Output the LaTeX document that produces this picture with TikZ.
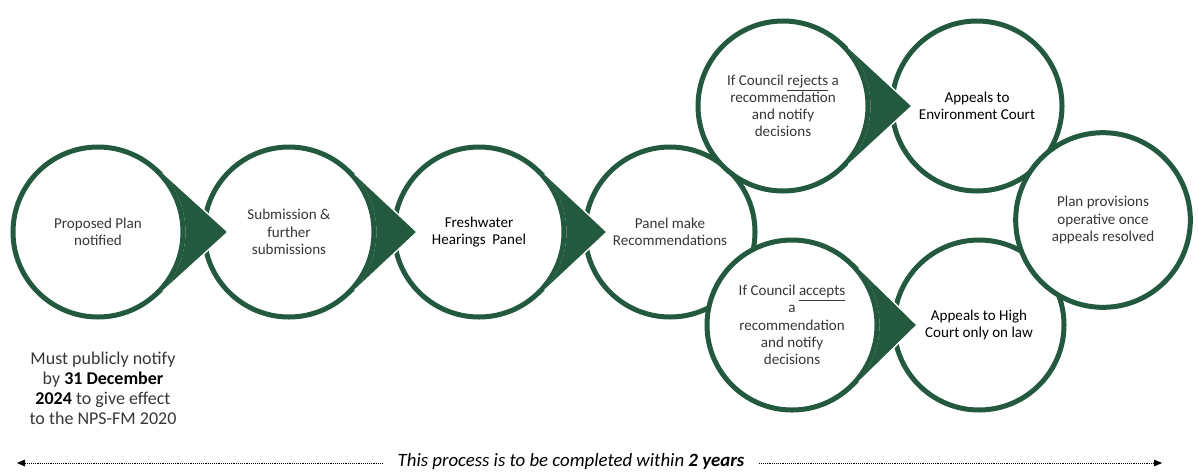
\documentclass[tikz,border=0pt]{standalone}
\usepackage{fontspec}
\setmainfont{Carlito}
\usetikzlibrary{calc,arrows.meta}
\definecolor{dg}{RGB}{35,89,62}
\definecolor{tx}{RGB}{55,55,55}
\tikzset{
  ring/.style={circle, draw=dg, line width=3.75pt, fill=white, minimum size=127.5pt,
    inner sep=0pt, align=center, text=tx, font=\fontsize{11.3}{12.9}\selectfont},
  dark/.style={text=black},
  timeline/.style={line width=0.7pt, dash pattern=on 0.7pt off 0.7pt, -{Triangle[length=6pt,width=5pt]}}
}
\newcommand\pointer[2]{%
  \pgfmathsetmacro\th{acos(87.5/#2)}%
  \fill[dg] ($(#1.center)+(#2,0)$) -- ($(#1.center)+(\th:87.5)$)
    arc[start angle=\th, end angle=-\th, radius=87.5] -- cycle;
  \draw[white, line width=1pt, shorten >=6pt]
    ($(#1.center)+(#2,0)$) -- ($(#1.center)+(\th:87.5)$);
  \draw[white, line width=1pt, shorten >=6pt]
    ($(#1.center)+(#2,0)$) -- ($(#1.center)+(-\th:87.5)$);}
\begin{document}
\begin{tikzpicture}[x=0.75pt,y=0.75pt]
\useasboundingbox (0,0) rectangle (1198,-472);
\node[ring] (p1) at (98,-232) {Proposed Plan\\notified};
\node[ring] (p2) at (289,-232) {Submission \&\\further\\submissions};
\node[ring,dark] (p3) at (479,-232) {Freshwater\\Hearings~~Panel};
\node[ring] (p4) at (670,-232) {Panel make\\Recommendations};
\node[ring] (p5) at (783,-106) {If Council \underline{rejects} a\\recommendation\\and notify\\decisions};
\node[ring] (p8) at (792,-325) {If Council \underline{accepts}\\a\\recommendation\\and notify\\decisions};
\node[ring,dark] (p6) at (977,-106) {Appeals to\\Environment Court};
\node[ring,dark] (p9) at (979,-325) {Appeals to High\\Court only on law};
\node[ring,minimum size=131pt] (p7) at (1103,-220) {Plan provisions\\operative once\\appeals resolved};
\pointer{p1}{130}
\pointer{p2}{128}
\pointer{p3}{128}
\pointer{p5}{129}
\pointer{p8}{125}
\node[align=center, text=tx, font=\fontsize{13.5}{15}\selectfont] (must) at (103,-388)
  {Must publicly notify\\by {\color{black}\bfseries 31 December}\\{\color{black}\bfseries 2024} to give effect\\to the NPS-FM 2020};
\node[inner xsep=11pt, inner ysep=0pt, text=black, font=\fontsize{14.1}{15}\selectfont\itshape] (note) at (571,-461)
  {This process is to be completed within \textbf{2 years}};
\coordinate (L) at (17,-463);
\coordinate (R) at (1162,-463);
\draw[timeline] (note.west|-L) -- (L);
\draw[timeline] (note.east|-R) -- (R);
\end{tikzpicture}
\end{document}
